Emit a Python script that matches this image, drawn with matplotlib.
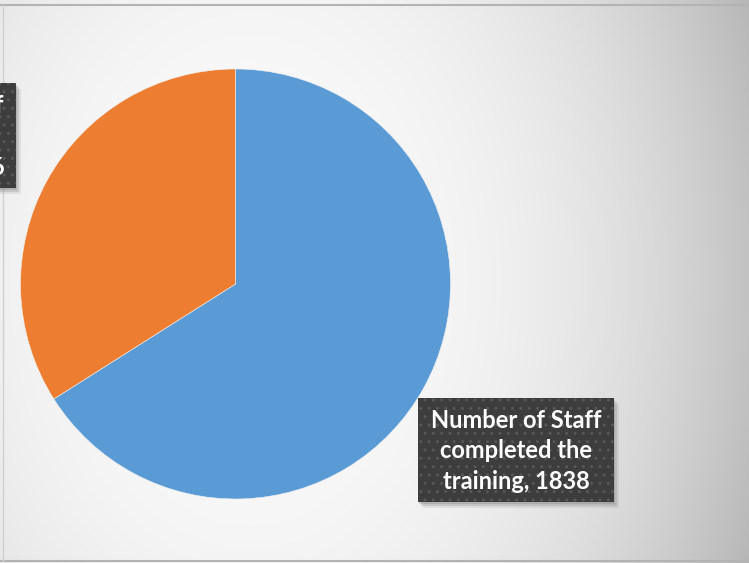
import numpy as np
import matplotlib
matplotlib.use("Agg")
import matplotlib.pyplot as plt
from matplotlib.patches import Rectangle

# Data
labels = ["Number of Staff completed the training", "Number of Staff not completed the training"]
values = [1838, 946]
colors = ["#5B9BD5", "#ED7D31"]

W, H = 749, 563
fig = plt.figure(figsize=(W / 100, H / 100), dpi=100)

# background: soft radial gradient like the office chart style
bg = fig.add_axes([0, 0, 1, 1])
xx, yy = np.meshgrid(np.arange(W), np.arange(H))
d = np.sqrt(((xx - 250) / 495.0) ** 2 + ((yy - 280) / 700.0) ** 2)
shade = 250 - 55 * np.clip(d, 0, 1.2) ** 2.5
img = np.dstack([shade, shade, shade]) / 255.0
bg.imshow(img, extent=[0, W, H, 0], aspect="auto")
bg.set_xlim(0, W)
bg.set_ylim(H, 0)
bg.axis("off")
# frame lines
bg.plot([0, W], [5, 5], color="#b3b3b3", lw=1.5)
bg.plot([0, W], [561, 561], color="#b3b3b3", lw=1.5)
bg.plot([2.5, 2.5], [5, 561], color="#d0d0d0", lw=1)

# pie
cx, cy, r = 235.5, 284, 215
ax = fig.add_axes([(cx - r) / W, 1 - (cy + r) / H, 2 * r / W, 2 * r / H])
ax.pie(values, colors=colors, startangle=90, counterclock=False,
       wedgeprops=dict(linewidth=0.4, edgecolor="#f0f0f0"))
ax.set_xlim(-1, 1)
ax.set_ylim(-1, 1)
ax.set_aspect("auto")
ax.axis("off")


def label_box(x0, y0, w, h, text):
    # soft shadow then dark dotted box
    for k, a in [(6, 0.15), (4, 0.25), (2, 0.3)]:
        bg.add_patch(Rectangle((x0 + k - 1, y0 + k), w, h, facecolor="#808080", alpha=a,
                               edgecolor="none", zorder=3))
    bg.add_patch(Rectangle((x0, y0), w, h, facecolor="#3d3d3d", edgecolor="#575757",
                           hatch="..", lw=0, zorder=4))
    t = bg.text(x0 + w / 2, y0 + h / 2 + 1, text, color="white", fontsize=17,
                fontweight="bold", family="Lato", ha="center", va="center",
                multialignment="center", linespacing=1.42, zorder=5)
    return t


label_box(418, 398, 196, 104, "Number of Staff\ncompleted the\ntraining, %d" % values[0])
# second label sits mostly outside the chart area, as in the original
label_box(-180, 83, 196, 105, "Number of Staff\nnot completed\nthe training, %d" % values[1])

fig.savefig("out.png", dpi=100)
